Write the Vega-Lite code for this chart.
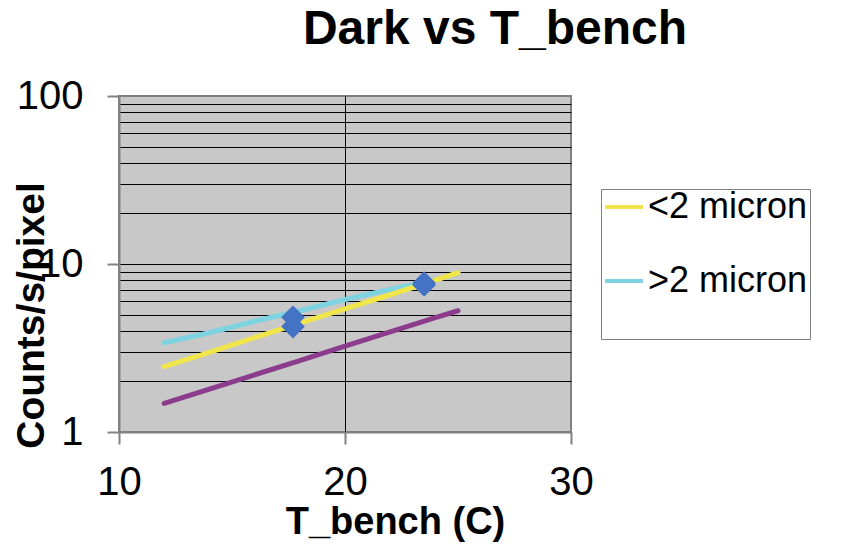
{
  "$schema": "https://vega.github.io/schema/vega-lite/v6.json",
  "width": 452,
  "height": 336,
  "autosize": {"type": "none"},
  "padding": {"left": 119, "top": 96, "right": 281, "bottom": 114},
  "background": "white",
  "title": {
    "text": "Dark vs T_bench",
    "font": "Liberation Sans",
    "fontSize": 48,
    "fontWeight": "bold",
    "color": "black",
    "frame": "group",
    "anchor": "middle",
    "dx": 150,
    "baseline": "alphabetic",
    "offset": -16
  },
  "config": {
    "font": "Liberation Sans",
    "view": {"fill": "#C8C8C8", "stroke": "#808080", "strokeWidth": 2}
  },
  "datasets": {
    "lines": [
      {"series": "fit", "T": 12, "counts": 1.48},
      {"series": "fit", "T": 14, "counts": 1.80},
      {"series": "fit", "T": 16, "counts": 2.19},
      {"series": "fit", "T": 18, "counts": 2.66},
      {"series": "fit", "T": 20, "counts": 3.24},
      {"series": "fit", "T": 22, "counts": 3.94},
      {"series": "fit", "T": 24, "counts": 4.79},
      {"series": "fit", "T": 25, "counts": 5.27},
      {"series": ">2 micron", "T": 12, "counts": 3.40},
      {"series": ">2 micron", "T": 14, "counts": 3.90},
      {"series": ">2 micron", "T": 16, "counts": 4.56},
      {"series": ">2 micron", "T": 18, "counts": 5.27},
      {"series": ">2 micron", "T": 20, "counts": 6.15},
      {"series": ">2 micron", "T": 22, "counts": 7.05},
      {"series": ">2 micron", "T": 24, "counts": 8.05},
      {"series": ">2 micron", "T": 25, "counts": 8.8},
      {"series": "<2 micron", "T": 12, "counts": 2.45},
      {"series": "<2 micron", "T": 14, "counts": 2.98},
      {"series": "<2 micron", "T": 16, "counts": 3.64},
      {"series": "<2 micron", "T": 18, "counts": 4.44},
      {"series": "<2 micron", "T": 20, "counts": 5.40},
      {"series": "<2 micron", "T": 22, "counts": 6.56},
      {"series": "<2 micron", "T": 24, "counts": 8.03},
      {"series": "<2 micron", "T": 25, "counts": 8.87}
    ],
    "pts": [
      {"T": 17.7, "counts": 4.82},
      {"T": 17.7, "counts": 4.24},
      {"T": 23.5, "counts": 7.5},
      {"T": 23.5, "counts": 7.7}
    ]
  },
  "encoding": {
    "x": {
      "field": "T",
      "type": "quantitative",
      "scale": {"domain": [10, 30], "nice": false, "zero": false},
      "axis": {
        "title": "T_bench (C)",
        "values": [10, 20, 30],
        "format": "d",
        "labelFont": "Liberation Sans",
        "labelFontSize": 40,
        "labelColor": "black",
        "labelPadding": 18,
        "labelFlush": false,
        "labelOverlap": false,
        "tickSize": 12,
        "tickColor": "#808080",
        "tickWidth": 2,
        "domainColor": "#808080",
        "domainWidth": 2,
        "grid": true,
        "gridColor": "black",
        "gridWidth": 1,
        "gridOpacity": {"condition": {"test": "datum.value === 20", "value": 1}, "value": 0},
        "titleFont": "Liberation Sans",
        "titleFontSize": 38,
        "titleFontWeight": "bold",
        "titleColor": "black",
        "titleAlign": "center",
        "titleBaseline": "alphabetic",
        "titleX": 276,
        "titleY": 101
      }
    },
    "y": {
      "field": "counts",
      "type": "quantitative",
      "scale": {"type": "log", "domain": [1, 100], "nice": false},
      "axis": {
        "title": "Counts/s/pixel",
        "values": [1, 2, 3, 4, 5, 6, 7, 8, 9, 10, 20, 30, 40, 50, 60, 70, 80, 90, 100],
        "format": "d",
        "labelExpr": "(datum.value == 1 || datum.value == 10 || datum.value == 100) ? datum.label : ''",
        "labelFont": "Liberation Sans",
        "labelFontSize": 40,
        "labelColor": "black",
        "labelPadding": 24,
        "labelFlush": false,
        "labelOverlap": false,
        "tickSize": 12,
        "tickColor": "#808080",
        "tickWidth": 2,
        "tickOpacity": {"condition": {"test": "datum.value == 1 || datum.value == 10 || datum.value == 100", "value": 1}, "value": 0},
        "domainColor": "#808080",
        "domainWidth": 2,
        "grid": true,
        "gridColor": "black",
        "gridWidth": 1,
        "gridOpacity": {"condition": {"test": "datum.value == 1 || datum.value == 100", "value": 0}, "value": 1},
        "titleFont": "Liberation Sans",
        "titleFontSize": 39,
        "titleFontWeight": "bold",
        "titleColor": "black",
        "titleAngle": -90,
        "titleAlign": "center",
        "titleBaseline": "alphabetic",
        "titleX": -76,
        "titleY": 219
      }
    }
  },
  "layer": [
    {
      "data": {"name": "lines"},
      "transform": [{"filter": "datum.series === 'fit'"}],
      "mark": {"type": "line", "color": "#8C3C8C", "strokeWidth": 5, "strokeCap": "round"}
    },
    {
      "data": {"name": "lines"},
      "transform": [{"filter": "datum.series !== 'fit'"}],
      "mark": {"type": "line", "strokeWidth": 5, "strokeCap": "round"},
      "encoding": {
        "color": {
          "field": "series",
          "type": "nominal",
          "sort": ["<2 micron", ">2 micron"],
          "scale": {"domain": ["<2 micron", ">2 micron"], "range": ["#F0E64B", "#7DD4E0"]},
          "legend": {
            "title": "\u00a0\u00a0\u00a0\u00a0\u00a0\u00a0\u00a0\u00a0\u00a0\u00a0\u00a0\u00a0\u00a0\u00a0\u00a0\u00a0\u00a0\u00a0\u00a0\u00a0\u00a0\u00a0\u00a0\u00a0\u00a0\u00a0\u00a0\u00a0\u00a0\u00a0\u00a0\u00a0\u00a0\u00a0\u00a0\u00a0\u00a0\u00a0\u00a0\u00a0",
            "titleOrient": "bottom",
            "titleFontSize": 20,
            "titleLimit": 1000,
            "titlePadding": 18,
            "orient": "none",
            "legendX": 482,
            "legendY": 93,
            "fillColor": "white",
            "strokeColor": "#808080",
            "padding": 2,
            "symbolType": "stroke",
            "symbolSize": 1444,
            "symbolStrokeWidth": 4,
            "clipHeight": 32,
            "rowPadding": 38,
            "labelFont": "Liberation Sans",
            "labelFontSize": 36,
            "labelColor": "black",
            "labelOffset": 3,
            "labelLimit": 500
          }
        }
      }
    },
    {
      "data": {"name": "pts"},
      "mark": {"type": "point", "shape": "diamond", "filled": true, "size": 560, "color": "#4472C4", "opacity": 1}
    }
  ]
}
